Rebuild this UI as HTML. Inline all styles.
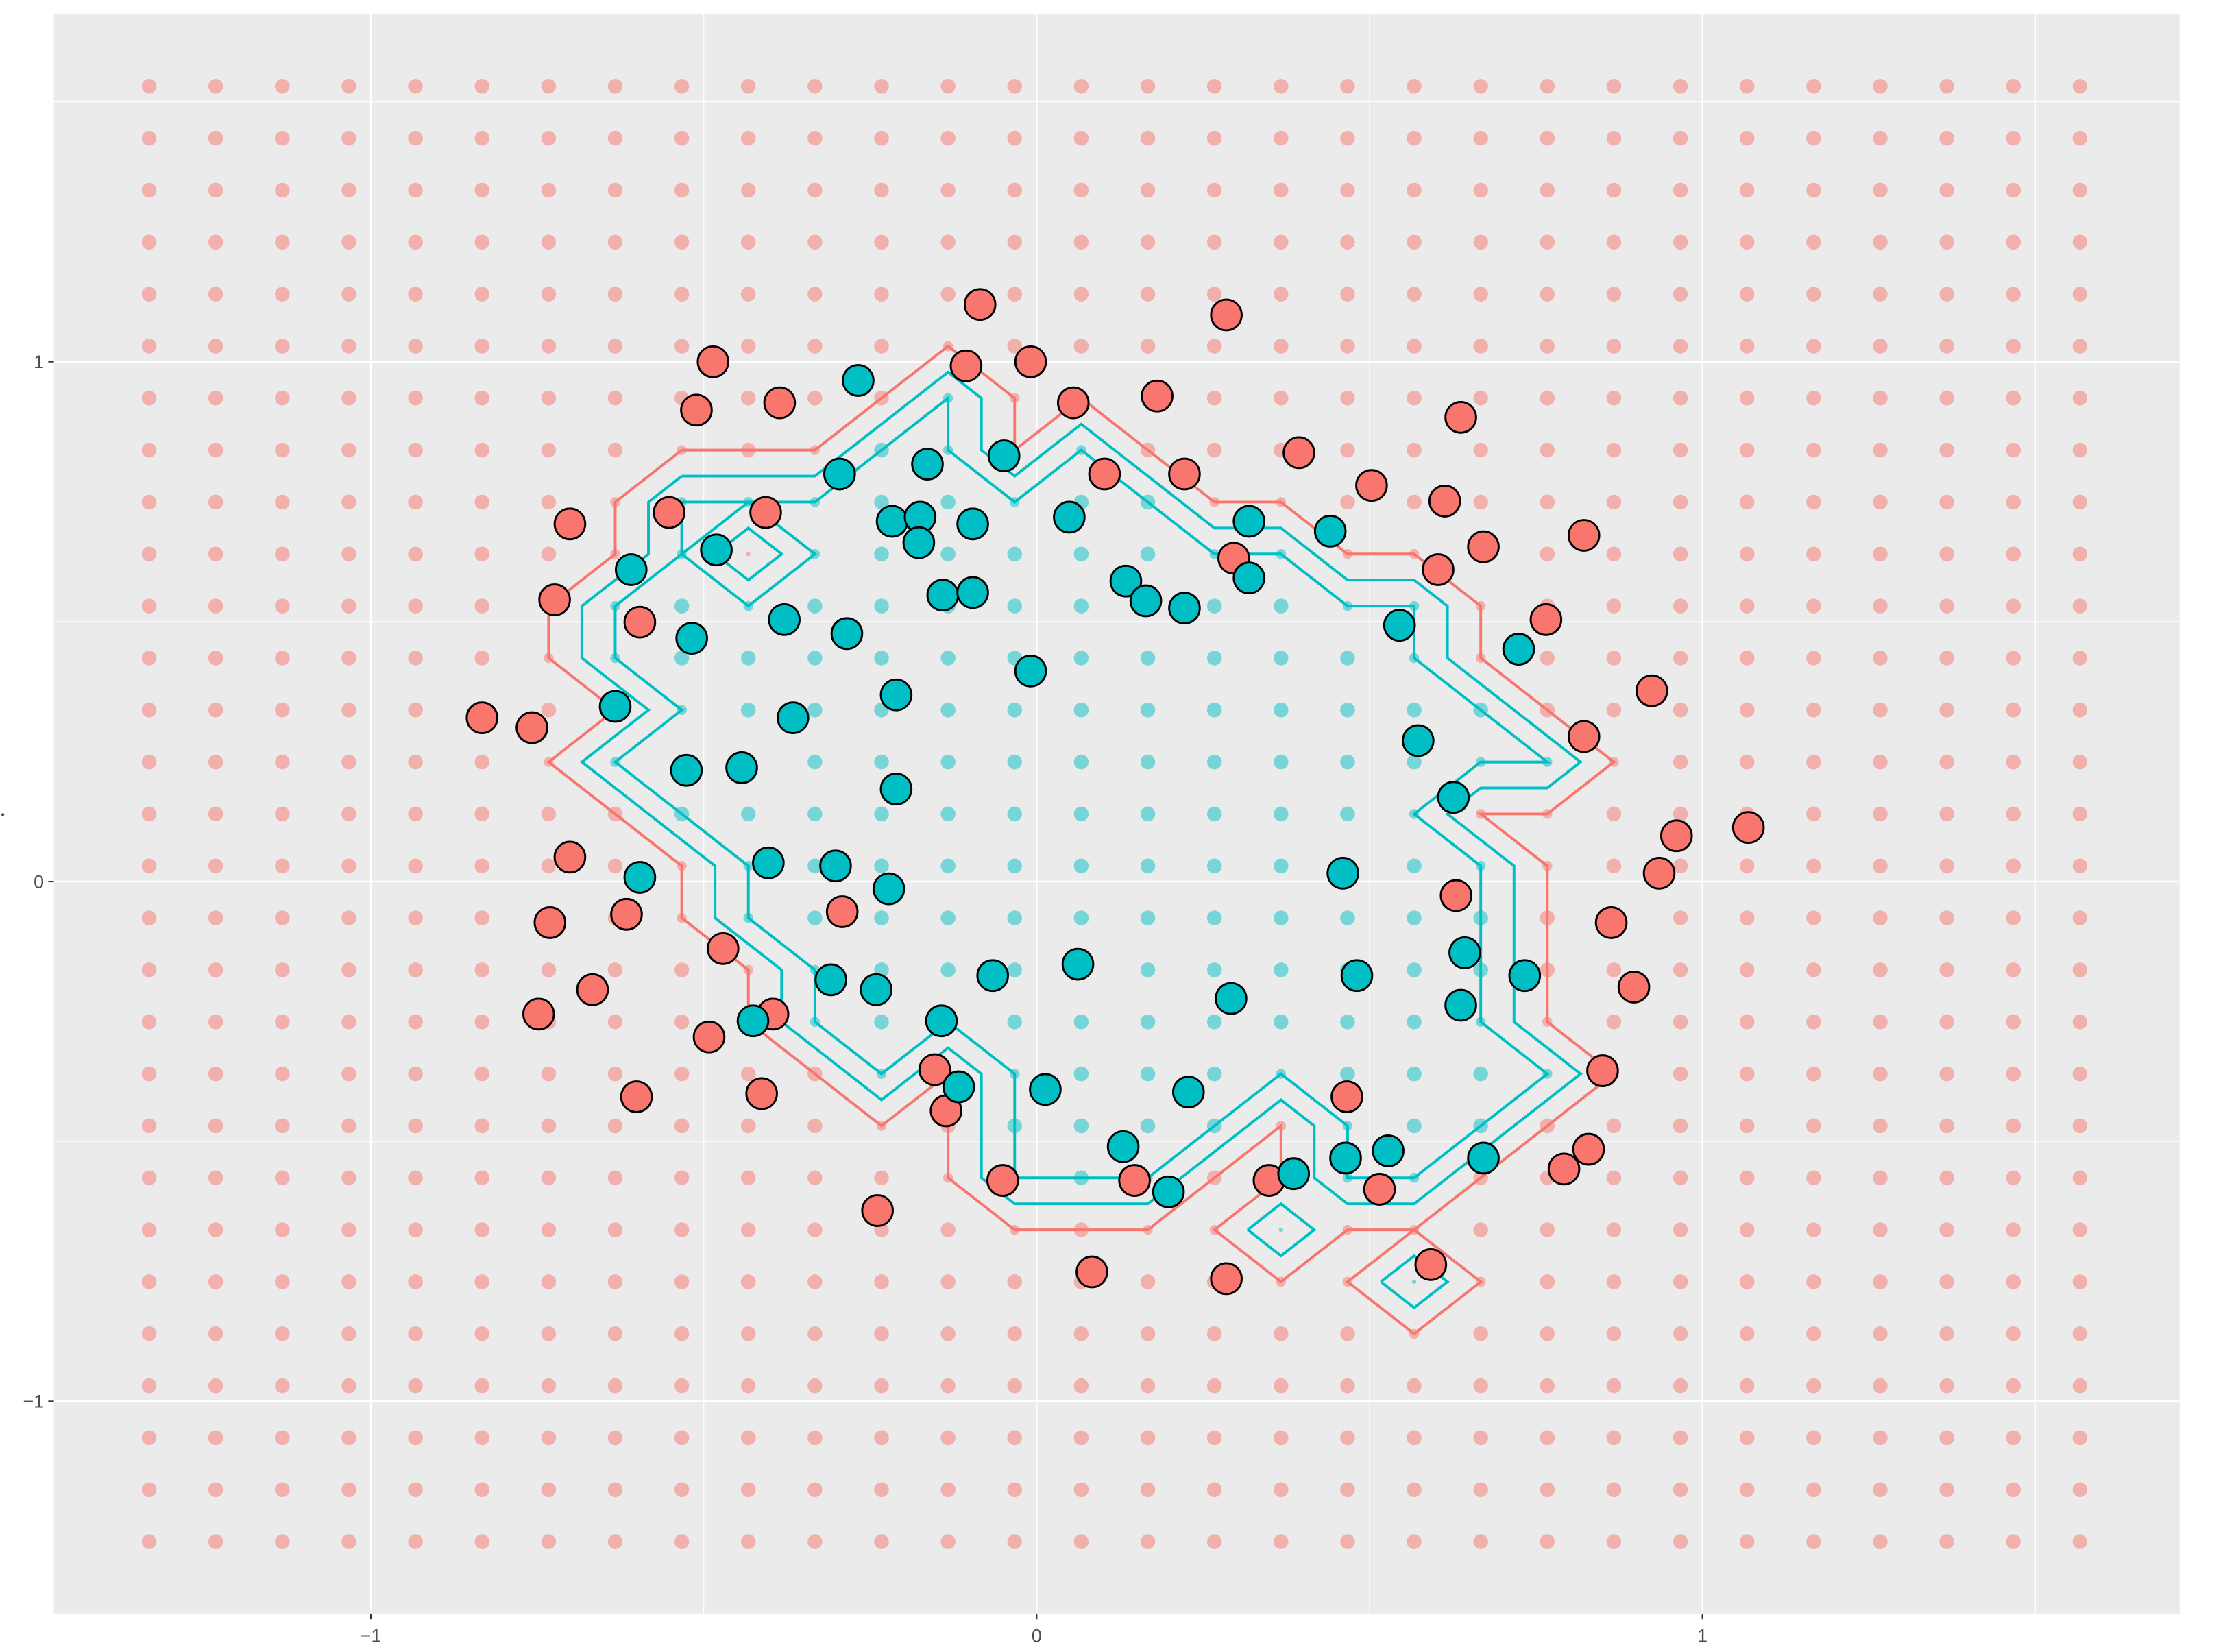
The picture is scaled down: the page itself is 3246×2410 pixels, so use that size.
<!DOCTYPE html>
<html><head><meta charset="utf-8">
<style>
html,body{margin:0;padding:0;background:#fff;}
svg{display:block;}
text{font-family:"Liberation Sans",sans-serif;}
</style></head>
<body>
<svg id="chart" width="3246" height="2410" viewBox="0 0 1569 1160" preserveAspectRatio="none" xmlns="http://www.w3.org/2000/svg">
<rect x="38" y="10" width="1499" height="1123" fill="#EBEBEB"/>
<g id="grid"></g>
<g id="bg"></g>
<g id="contours"></g>
<g id="pts"></g>
<g id="axes"></g>
<circle cx="2" cy="572" r="1" fill="#444"/>
</svg>
<script>
const xTicks = [-1, 0, 1];
const yTicks = [-1, 0, 1];
const xMinor = [-0.5, 0.5, 1.5];
const yMinor = [-0.5, 0.5, 1.5];
const tickLabels = ["\u22121", "0", "1"];
const gridX = [-1.333,-1.233,-1.133,-1.033,-0.933,-0.833,-0.733,-0.633,-0.533,-0.433,-0.333,-0.233,-0.133,-0.033,0.067,0.167,0.267,0.367,0.467,0.567,0.667,0.767,0.867,0.967,1.067,1.167,1.267,1.367,1.467,1.567];
const gridY = [1.53,1.43,1.33,1.23,1.13,1.03,0.93,0.83,0.73,0.63,0.53,0.43,0.33,0.23,0.13,0.03,-0.07,-0.17,-0.27,-0.37,-0.47,-0.57,-0.67,-0.77,-0.87,-0.97,-1.07,-1.17,-1.27];
// contours in grid index units [col,row]
const redMain = [[8,7],[10,7],[12,5],[13,6],[13,7],[14,6],[16,8],[17,8],[18,9],[19,9],[20,10],[20,11],[22,13],[21,14],[20,14],[21,15],[21,18],[22,19],[19,22],[18,22],[17,23],[16,22],[17,21],[17,20],[15,22],[13,22],[12,21],[12,19],[11,20],[9,18],[9,17],[8,16],[8,15],[6,13],[7,12],[6,11],[6,10],[7,9],[7,8],[8,7]];
const redLoop = [[19,22],[20,23],[19,24],[18,23],[19,22]];
const cyanMid = [[8,7.5],[10,7.5],[12,5.5],[12.5,6],[12.5,7],[13,7.5],[14,6.5],[16,8.5],[17,8.5],[18,9.5],[19,9.5],[19.5,10],[19.5,11],[21.5,13],[21,13.5],[20,13.5],[19.5,14],[20.5,15],[20.5,18],[21.5,19],[19,21.5],[18,21.5],[17.5,21],[17.5,20],[17,19.5],[15,21.5],[13,21.5],[12.5,21],[12.5,19],[12,18.5],[11,19.5],[9.5,18],[9.5,17],[8.5,16],[8.5,15],[6.5,13],[7.5,12],[6.5,11],[6.5,10],[7.5,9],[7.5,8],[8,7.5]];
const cyanInner = [[8,8],[10,8],[12,6],[12,7],[13,8],[14,7],[16,9],[17,9],[18,10],[19,10],[19,11],[21,13],[20,13],[19,14],[20,15],[20,18],[21,19],[19,21],[18,21],[18,20],[17,19],[15,21],[13,21],[13,19],[12,18],[11,19],[10,18],[10,17],[9,16],[9,15],[7,13],[8,12],[7,11],[7,10],[8,9],[8,8]];
const cyanD1 = [[8,9],[9,8],[10,9],[9,10],[8,9]];
const cyanD1i = [[8.5,9],[9,8.5],[9.5,9],[9,9.5],[8.5,9]];
const cyanD2 = [[16.5,22],[17,21.5],[17.5,22],[17,22.5],[16.5,22]];
const cyanD3 = [[18.5,23],[19,22.5],[19.5,23],[19,23.5],[18.5,23]];
const redX = [-0.085,0.285,-0.486,-0.009,-0.106,-0.386,-0.511,0.055,0.181,0.637,0.394,0.503,0.102,0.222,0.613,-0.552,-0.407,-0.701,0.671,0.822,0.296,0.603,-0.724,-0.596,0.765,0.924,-0.833,-0.758,0.822,1.069,0.961,-0.701,0.935,0.630,-0.292,-0.616,-0.731,0.863,-0.471,-0.667,0.897,-0.748,-0.396,-0.492,-0.153,0.850,-0.136,-0.413,-0.601,0.466,0.829,0.792,-0.051,0.147,0.349,0.515,-0.239,0.083,0.285,0.592];
const redY = [1.110,1.090,1.000,1.000,0.992,0.921,0.907,0.921,0.934,0.893,0.825,0.762,0.784,0.784,0.732,0.710,0.710,0.688,0.644,0.666,0.622,0.600,0.542,0.499,0.504,0.367,0.315,0.296,0.279,0.104,0.088,0.047,0.016,-0.027,-0.058,-0.063,-0.079,-0.079,-0.129,-0.208,-0.203,-0.255,-0.255,-0.299,-0.362,-0.364,-0.441,-0.408,-0.414,-0.414,-0.515,-0.553,-0.575,-0.575,-0.575,-0.592,-0.633,-0.751,-0.764,-0.737];
const cyanX = [-0.268,-0.049,-0.164,-0.296,0.049,-0.096,-0.217,-0.175,-0.177,0.319,0.441,-0.481,-0.609,0.134,0.319,-0.141,-0.096,0.164,0.222,-0.379,-0.285,-0.518,0.545,0.724,-0.009,-0.211,-0.366,-0.633,0.573,-0.526,-0.443,-0.211,0.626,-0.403,-0.302,-0.596,-0.222,0.460,0.643,0.062,-0.309,-0.241,-0.066,0.481,0.733,0.637,-0.426,-0.143,0.292,-0.117,0.013,0.228,0.130,0.464,0.528,0.671,0.386,0.198];
const cyanY = [0.964,0.819,0.803,0.784,0.701,0.688,0.693,0.701,0.652,0.693,0.674,0.638,0.600,0.578,0.584,0.551,0.556,0.540,0.526,0.504,0.477,0.468,0.493,0.447,0.405,0.359,0.315,0.337,0.271,0.214,0.219,0.178,0.162,0.036,0.030,0.008,-0.014,0.016,-0.137,-0.159,-0.189,-0.208,-0.181,-0.181,-0.181,-0.238,-0.268,-0.268,-0.225,-0.395,-0.400,-0.405,-0.510,-0.532,-0.518,-0.532,-0.562,-0.597];

const NS = "http://www.w3.org/2000/svg";
const sx = v => 731 + 469.5 * v;
const sy = v => 619 - 365 * v;
const ix = f => gridX[0] + (gridX[1] - gridX[0]) * f;
const iy = f => gridY[0] + (gridY[1] - gridY[0]) * f;
function mk(tag, attrs, parent) {
  const e = document.createElementNS(NS, tag);
  for (const k in attrs) e.setAttribute(k, attrs[k]);
  parent.appendChild(e);
  return e;
}
const grid = document.getElementById('grid');
xMinor.forEach(v => {
  const l = mk('line', {x1: sx(v), x2: sx(v), y1: 10, y2: 1133, stroke: '#fff', 'stroke-width': 0.6}, grid);
  
  
});
yMinor.forEach(v => {
  const l = mk('line', {x1: 38, x2: 1537, y1: sy(v), y2: sy(v), stroke: '#fff', 'stroke-width': 0.6}, grid);
  
  
});
xTicks.forEach(v => {
  const l = mk('line', {x1: sx(v), x2: sx(v), y1: 10, y2: 1133, stroke: '#fff', 'stroke-width': 1.2}, grid);
  
  
});
yTicks.forEach(v => {
  const l = mk('line', {x1: 38, x2: 1537, y1: sy(v), y2: sy(v), stroke: '#fff', 'stroke-width': 1.2}, grid);
  
  
});
function inside(poly, px, py) {
  let c = false;
  for (let a = 0, b = poly.length - 1; a < poly.length; b = a++) {
    const [xa, ya] = poly[a], [xb, yb] = poly[b];
    if ((ya > py) !== (yb > py) && px < (xb - xa) * (py - ya) / (yb - ya) + xa) c = !c;
  }
  return c;
}
function onVertex(polys, i, j) {
  return polys.some(p => p.some(q => q[0] === i && q[1] === j));
}
const bg = document.getElementById('bg');
for (let j = 0; j < gridY.length; j++) {
  for (let i = 0; i < gridX.length; i++) {
    let cy = inside(cyanMid, i, j) || inside(cyanD2, i, j) || inside(cyanD3, i, j);
    if (i === 9 && j === 9) cy = false;
    const small = onVertex([redMain, redLoop, cyanInner, cyanD1], i, j) || (i===9&&j===9) || (i===17&&j===22) || (i===19&&j===23);
    const r = (i===9&&j===9)||(i===17&&j===22)||(i===19&&j===23) ? 1.5 : (small ? 3.5 : 5.2);
    const c = mk('circle', {cx: sx(gridX[i]), cy: sy(gridY[j]), r: r, fill: cy ? '#00BFC4' : '#F8766D', 'fill-opacity': 0.5}, bg);
    
    
  }
}
const cg = document.getElementById('contours');
function line(pts, color, name) {
  const d = pts.map((p, k) => (k ? 'L' : 'M') + sx(ix(p[0])).toFixed(2) + ' ' + sy(iy(p[1])).toFixed(2)).join(' ');
  const e = mk('path', {d: d, fill: 'none', stroke: color, 'stroke-width': 1.9, 'stroke-linejoin': 'miter'}, cg);
  
  
}
line(redMain, '#F8766D', 'red-contour');
line(redLoop, '#F8766D', 'red-contour-loop');
line(cyanMid, '#00BFC4', 'cyan-contour-outer');
line(cyanInner, '#00BFC4', 'cyan-contour-inner');
line(cyanD1, '#00BFC4', 'cyan-contour-island');
line(cyanD1i, '#00BFC4', 'cyan-contour-island-inner');
line(cyanD2, '#00BFC4', 'cyan-contour-island-2');
line(cyanD3, '#00BFC4', 'cyan-contour-island-3');
const pg = document.getElementById('pts');
redX.forEach((v, k) => {
  const c = mk('circle', {cx: sx(v), cy: sy(redY[k]), r: 10.8, fill: '#F8766D', stroke: '#000', 'stroke-width': 1.4}, pg);
  
  
});
cyanX.forEach((v, k) => {
  const c = mk('circle', {cx: sx(v), cy: sy(cyanY[k]), r: 10.8, fill: '#00BFC4', stroke: '#000', 'stroke-width': 1.4}, pg);
  
  
});
const ax = document.getElementById('axes');
xTicks.forEach((v, k) => {
  const t = mk('line', {x1: sx(v), x2: sx(v), y1: 1133, y2: 1137, stroke: '#333', 'stroke-width': 1}, ax);
  
  
  const l = mk('text', {x: sx(v), y: 1153, 'font-size': 13, fill: '#4D4D4D', 'text-anchor': 'middle'}, ax);
  l.textContent = tickLabels[k];
  
  
});
yTicks.forEach((v, k) => {
  const t = mk('line', {x1: 34, x2: 38, y1: sy(v), y2: sy(v), stroke: '#333', 'stroke-width': 1}, ax);
  
  
  const l = mk('text', {x: 31, y: sy(v) + 4.5, 'font-size': 13, fill: '#4D4D4D', 'text-anchor': 'end'}, ax);
  l.textContent = tickLabels[k];
  
  
});
</script>
</body></html>
